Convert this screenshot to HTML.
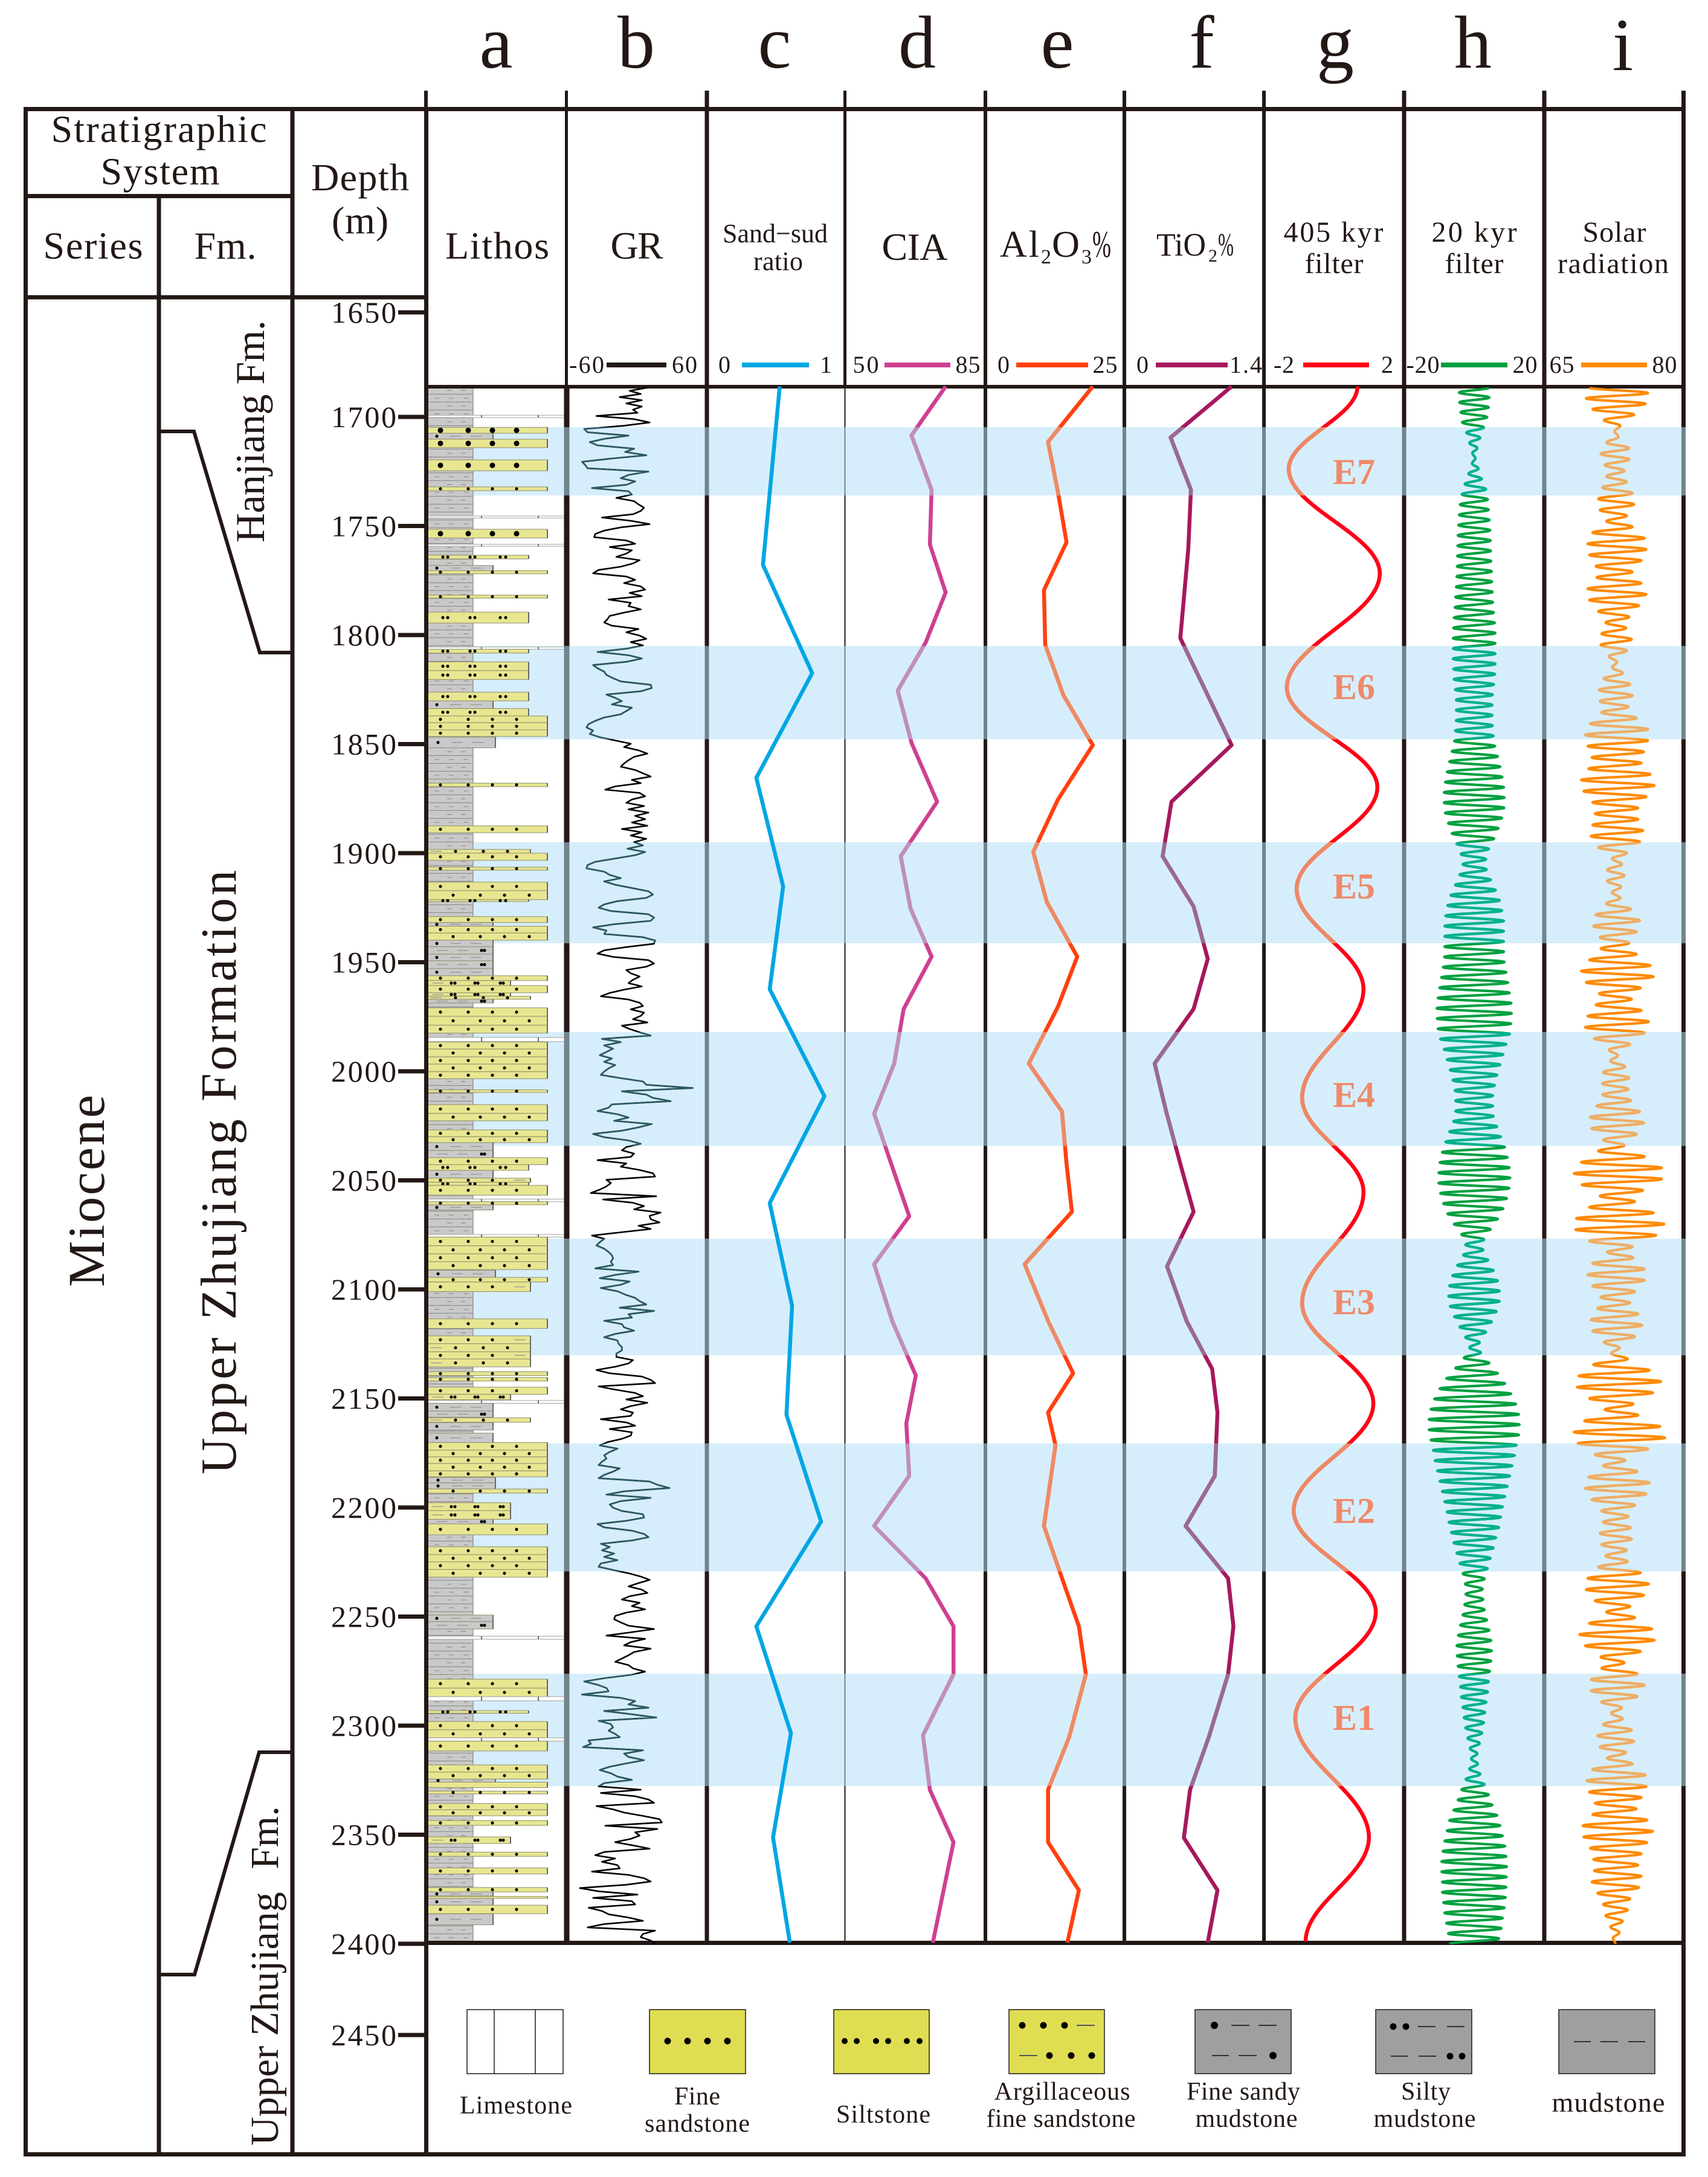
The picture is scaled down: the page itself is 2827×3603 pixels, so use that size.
<!DOCTYPE html>
<html lang="en">
<head>
<meta charset="utf-8">
<title>Stratigraphic chart</title>
<style>
html,body{margin:0;padding:0;background:#fff;}
svg{display:block;}
text{font-family:"Liberation Serif",serif;fill:#231815;}
.hd{font-size:64px;text-anchor:middle;}
.sm{font-size:48px;text-anchor:middle;}
.sc{font-size:40px;text-anchor:middle;}
.lt{font-size:124px;text-anchor:middle;}
.lg{font-size:42px;text-anchor:middle;}
</style>
</head>
<body>
<svg id="chart" xmlns="http://www.w3.org/2000/svg" width="2827" height="3603" viewBox="0 0 2827 3603">
<defs>
<pattern id="mudPattern" patternUnits="userSpaceOnUse" x="707" y="640" width="76" height="26">
<rect width="76" height="26" fill="#c9c9c9"/>
<path d="M0 12.5H76M0 25.5H76" stroke="#8f8f8f" stroke-width="1.2"/>
<path d="M33 6h8M56 6h8M12 19h8M36 19h8M60 19h8" stroke="#9a9a9a" stroke-width="1.4"/>
</pattern>
<clipPath id="bandClip"></clipPath>
</defs>
<rect width="2827" height="3603" fill="#fff"/>

<g>
<text class="lt" x="821" y="112">a</text>
<text class="lt" x="1053" y="112">b</text>
<text class="lt" x="1282" y="112">c</text>
<text class="lt" x="1518" y="112">d</text>
<text class="lt" x="1750" y="112">e</text>
<text class="lt" x="1989" y="112">f</text>
<text class="lt" x="2210" y="112">g</text>
<text class="lt" x="2438" y="112">h</text>
<text class="lt" x="2686" y="116">i</text>
</g>

<g id="bandLayer"></g>
<g id="lithoLayer"></g>

<g fill="#231815">
<rect x="702" y="150" width="6" height="30"/>
<rect x="935" y="150" width="5" height="490"/>
<rect x="933.5" y="640" width="9" height="2577"/>
<rect x="1166.5" y="150" width="7" height="3067"/>
<rect x="1396" y="150" width="5" height="490"/>
<rect x="1397.5" y="640" width="2" height="2577"/>
<rect x="1628" y="150" width="6" height="3067"/>
<rect x="1858" y="150" width="6" height="3067"/>
<rect x="2089" y="150" width="6" height="3067"/>
<rect x="2320.5" y="150" width="7" height="3067"/>
<rect x="2552.5" y="150" width="7" height="3067"/>
<rect x="2783" y="150" width="7" height="3418"/>
<rect x="39" y="177" width="2751" height="7"/>
<rect x="705" y="637" width="2085" height="6"/>
<rect x="705" y="3212" width="2085" height="7"/>
<rect x="39" y="3562" width="2751" height="7"/>
<rect x="39" y="177" width="7" height="3392"/>
<rect x="480.5" y="177" width="7" height="3392"/>
<rect x="702" y="177" width="7" height="3392"/>
<rect x="259.5" y="324" width="7" height="3245"/>
<rect x="39" y="321" width="448" height="7"/>
<rect x="39" y="488.5" width="670" height="7"/>
</g>
<polyline points="263,714 321,714 430,1080 484,1080" fill="none" stroke="#231815" stroke-width="6"/>
<polyline points="263,3268 322,3268 429,2900 484,2900" fill="none" stroke="#231815" stroke-width="6"/>

<g id="bandLineLayer"></g>
<g id="curveLayer"></g>
<g id="tickLayer"></g>

<g>
<text class="hd" x="263" y="235" textLength="357">Stratigraphic</text>
<text class="hd" x="265" y="305" textLength="197">System</text>
<text class="hd" x="154" y="428" textLength="165">Series</text>
<text class="hd" x="373" y="428" textLength="103">Fm.</text>
<text class="hd" x="596" y="315" textLength="162">Depth</text>
<text class="hd" x="596" y="386" textLength="94">(m)</text>
<text class="hd" x="823" y="428" textLength="172">Lithos</text>
<text class="hd" x="1054" y="428" textLength="87">GR</text>
<text class="sm" x="1283" y="401" textLength="174" style="font-size:44px">Sand−sud</text>
<text class="sm" x="1288" y="447" textLength="82" style="font-size:44px">ratio</text>
<text class="hd" x="1514" y="430" textLength="109">CIA</text>
<g>
<text x="1655" y="425" font-size="62" textLength="65">Al</text>
<text x="1723" y="436" font-size="34">2</text>
<text x="1741" y="425" font-size="62" textLength="46" lengthAdjust="spacingAndGlyphs">O</text>
<text x="1790" y="436" font-size="34">3</text>
<text x="1808" y="425" font-size="62" textLength="31" lengthAdjust="spacingAndGlyphs">%</text>
</g>
<g>
<text x="1914" y="423" font-size="54" textLength="82" lengthAdjust="spacingAndGlyphs">TiO</text>
<text x="2000" y="433" font-size="30">2</text>
<text x="2016" y="423" font-size="54" textLength="26" lengthAdjust="spacingAndGlyphs">%</text>
</g>
<text class="sm" x="2207" y="400" textLength="165">405 kyr</text>
<text class="sm" x="2208" y="452" textLength="97">filter</text>
<text class="sm" x="2440" y="400" textLength="141">20 kyr</text>
<text class="sm" x="2440" y="452" textLength="97">filter</text>
<text class="sm" x="2672" y="400" textLength="105">Solar</text>
<text class="sm" x="2670" y="452" textLength="184">radiation</text>
</g>

<g>
<text class="sc" x="971" y="617" textLength="58">-60</text>
<rect x="1004" y="600" width="99" height="8" fill="#231815"/>
<text class="sc" x="1133" y="617" textLength="42">60</text>
<text class="sc" x="1199" y="617">0</text>
<rect x="1228" y="600" width="111" height="8" fill="#00a6e4"/>
<text class="sc" x="1367" y="617">1</text>
<text class="sc" x="1433" y="617" textLength="43">50</text>
<rect x="1464" y="600" width="109" height="8" fill="#cf4090"/>
<text class="sc" x="1602" y="617" textLength="41">85</text>
<text class="sc" x="1661" y="617">0</text>
<rect x="1682" y="600" width="119" height="8" fill="#ff4010"/>
<text class="sc" x="1829" y="617" textLength="41">25</text>
<text class="sc" x="1891" y="617">0</text>
<rect x="1913" y="600" width="119" height="8" fill="#a6185e"/>
<text class="sc" x="2062" y="617" textLength="54">1.4</text>
<text class="sc" x="2125" y="617" textLength="34">-2</text>
<rect x="2157" y="600" width="109" height="8" fill="#ff0018"/>
<text class="sc" x="2296" y="617">2</text>
<text class="sc" x="2355" y="617" textLength="55">-20</text>
<rect x="2385" y="600" width="110" height="8" fill="#00a040"/>
<text class="sc" x="2524" y="617" textLength="41">20</text>
<text class="sc" x="2585" y="617" textLength="41">65</text>
<rect x="2617" y="600" width="109" height="8" fill="#ff8a00"/>
<text class="sc" x="2755" y="617" textLength="41">80</text>
</g>

<g>
<text transform="translate(172,2130) rotate(-90)" font-size="86" textLength="318">Miocene</text>
<text transform="translate(390,2440) rotate(-90)" font-size="84" textLength="1000">Upper Zhujiang Formation</text>
<text transform="translate(437,898) rotate(-90)" font-size="68" textLength="368">Hanjiang Fm.</text>
<text transform="translate(460,3551) rotate(-90)" font-size="66">Upper Zhujiang<tspan dx="21"> Fm.</tspan></text>
</g>

<g>
<g>
<rect x="773" y="3326" width="159" height="106" fill="#fff" stroke="#231815" stroke-width="1.5"/>
<path d="M818 3326V3432M886 3326V3432" stroke="#231815" stroke-width="1.5"/>
<text class="lg" x="854" y="3498" textLength="186">Limestone</text>
</g>
<g>
<rect x="1075" y="3326" width="159" height="106" fill="#dfde52" stroke="#231815" stroke-width="1.5"/>
<g fill="#000">
<circle cx="1105" cy="3378" r="5.5"/><circle cx="1138" cy="3378" r="5.5"/><circle cx="1171" cy="3378" r="5.5"/><circle cx="1204" cy="3378" r="5.5"/>
</g>
<text class="lg" x="1154" y="3483" textLength="76">Fine</text>
<text class="lg" x="1154" y="3528" textLength="174">sandstone</text>
</g>
<g>
<rect x="1380" y="3326" width="158" height="106" fill="#dfde52" stroke="#231815" stroke-width="1.5"/>
<g fill="#000">
<circle cx="1398" cy="3378" r="5"/><circle cx="1418" cy="3378" r="5"/><circle cx="1450" cy="3378" r="5"/><circle cx="1470" cy="3378" r="5"/><circle cx="1501" cy="3378" r="5"/><circle cx="1522" cy="3378" r="5"/>
</g>
<text class="lg" x="1462" y="3513" textLength="156">Siltstone</text>
</g>
<g>
<rect x="1670" y="3326" width="158" height="106" fill="#dfde52" stroke="#231815" stroke-width="1.5"/>
<g fill="#000">
<circle cx="1692" cy="3352" r="5.5"/><circle cx="1727" cy="3352" r="5.5"/><circle cx="1762" cy="3352" r="5.5"/><circle cx="1737" cy="3402" r="5.5"/><circle cx="1773" cy="3402" r="5.5"/><circle cx="1807" cy="3402" r="5.5"/>
</g>
<path d="M1782 3352h30M1687 3402h30" stroke="#555" stroke-width="2"/>
<text class="lg" x="1758" y="3475" textLength="225">Argillaceous</text>
<text class="lg" x="1756" y="3520" textLength="247">fine sandstone</text>
</g>
<g>
<rect x="1978" y="3326" width="159" height="106" fill="#a09fa0" stroke="#231815" stroke-width="1.5"/>
<g fill="#000"><circle cx="2010" cy="3352" r="6"/><circle cx="2107" cy="3402" r="6"/></g>
<path d="M2038 3352h30M2083 3352h30M2006 3402h28M2050 3402h30" stroke="#333" stroke-width="2"/>
<text class="lg" x="2058" y="3475" textLength="188">Fine sandy</text>
<text class="lg" x="2063" y="3520" textLength="169">mudstone</text>
</g>
<g>
<rect x="2277" y="3326" width="159" height="106" fill="#a09fa0" stroke="#231815" stroke-width="1.5"/>
<g fill="#000"><circle cx="2306" cy="3354" r="5.5"/><circle cx="2327" cy="3354" r="5.5"/><circle cx="2400" cy="3403" r="5.5"/><circle cx="2420" cy="3403" r="5.5"/></g>
<path d="M2347 3354h29M2395 3354h29M2302 3403h29M2348 3403h29" stroke="#333" stroke-width="2"/>
<text class="lg" x="2360" y="3475" textLength="82">Silty</text>
<text class="lg" x="2358" y="3520" textLength="169">mudstone</text>
</g>
<g>
<rect x="2580" y="3326" width="159" height="106" fill="#a09fa0" stroke="#231815" stroke-width="1.5"/>
<path d="M2605 3379h28M2649 3379h29M2695 3379h28" stroke="#333" stroke-width="2"/>
<text class="lg" x="2662" y="3495" textLength="187" style="font-size:46px">mudstone</text>
</g>
</g>
</svg>

<script>
// ---------- chart data ----------
const depthTicks = [1650,1700,1750,1800,1850,1900,1950,2000,2050,2100,2150,2200,2250,2300,2350,2400,2450];
const dataTopDepth = 1686;
const dataBottomDepth = 2400;

const bandNames = ['E7','E6','E5','E4','E3','E2','E1'];
const bandTops = [1704.7,1805,1895,1982,2076.7,2170.6,2276.2];
const bandBottoms = [1736,1847.8,1941.3,2034.2,2130.2,2229.3,2327.7];
const bandLabelDepths = [1730.8,1829.4,1920.8,2016.4,2111.4,2207,2302];

const sandDepths = [1686,1768.4,1818,1866,1915.8,1962.9,2012,2061,2108,2158,2207,2255,2304,2351.8,2400];
const sandValues = [.56,.41,.85,.35,.59,.47,.96,.47,.67,.62,.93,.35,.66,.50,.65];

const ciaDepths = [1686,1709,1734,1759,1781,1804,1826,1850,1877,1902,1926,1948,1972,1997,2020,2043,2067,2089,2115,2140,2162,2186,2209,2233,2255,2277,2305,2330,2354,2400];
const ciaValues = [77.3,66.9,73,72.5,77.3,71.2,62.7,66.9,74.7,63.6,66.6,73,64.5,61.6,55.5,60.7,66.2,55.5,61,68.2,65.3,66.2,55.5,71.2,79.7,79.7,70.4,72.5,79.7,73.4];

const al2o3Depths = [1686,1712,1735,1758,1780,1805,1828,1851,1876,1900,1923,1948,1971,1997,2019,2043,2065,2089,2115,2139,2157,2172,2209,2233,2255,2277,2306,2330,2354,2376,2400];
const al2o3Values = [23.8,12.9,15.3,17.4,11.9,12.2,16.6,23.8,15.3,9.3,12.6,20,15.3,8.2,16.3,17.4,18.7,7.2,12.9,19,12.9,14.7,11.9,16.3,20.4,22.1,18,12.9,12.9,20.4,17.6];

const tio2Depths = [1686,1710,1734,1761,1802,1851,1877,1902,1925,1949,1972,1997,2019,2043,2065,2090,2115,2137,2157,2186,2209,2233,2255,2277,2306,2330,2352,2376,2400];
const tio2Values = [1.11,.42,.65,.62,.53,1.11,.43,.33,.68,.84,.68,.24,.37,.53,.68,.38,.60,.89,.95,.92,.59,1.07,1.13,1.07,.85,.64,.57,.95,.84];

const filter405Depths = [1686,1724.4,1772.3,1824.7,1870.4,1916.9,1962.9,2012.7,2056,2106.9,2152.9,2202,2248.5,2297,2351.8,2399.5];
const filter405Values = [.91,-1.62,1.73,-1.69,1.64,-1.33,1.13,-1.13,1.13,-1.13,1.49,-1.44,1.58,-1.38,1.33,-1.0];

const filter20Amplitudes = [5,5,5,4.9,4.8,4.5,4.3,4,3.2,2.6,2,1.6,1,.6,.4,.7,1.4,1.9,2.5,3.1,3.9,4.1,4.5,4.7,4.8,5,5.1,5.2,5.3,5.4,5.4,5.5,5.5,5.6,5.6,5.7,5.8,5.8,5.9,6,6.1,6.2,6.2,6.4,6.5,6.7,6.8,6.9,7,7,7,7,7,7,7,6.9,6.9,6.7,6.5,6.3,6.1,6,6,6,6,6,6.1,6.3,6.4,6.6,6.9,7.4,7.8,8.2,8.6,9,9.3,9.6,9.8,10,10,10,9.9,9.6,9.2,8.6,8,7.4,6.6,5.8,4.8,4.4,3.9,3.8,4.1,4.8,5.5,6.3,7.1,7.8,8.4,8.8,9.2,9.5,9.8,9.8,9.8,9.8,9.8,9.8,9.8,9.9,10,10.3,10.6,10.9,11.2,11.5,11.7,12,12.3,12.4,12.4,12.3,12.2,12,11.8,11.2,10.6,10,9.6,9,8.6,8,7.6,7.1,6.8,6.4,6.2,6.2,6.2,6.2,6.4,6.9,7.6,8.2,8.8,9.5,10.1,10.6,11,11.4,11.7,11.8,11.9,11.8,11.6,11.2,10.8,10.2,9.6,8.8,7.8,6.7,5.4,4.2,3.3,2.9,3,3.6,4.6,5.6,6.4,7.2,7.8,8.2,8.4,8.5,8.4,8,7.4,6.6,5.8,4.8,3.9,2.9,1.8,1.6,2.2,3.4,5,6.2,7.8,9.2,10.2,11.4,12.2,13.2,13.8,14.4,14.8,15,15,15,14.8,14.4,14,13.6,13.4,13,12.6,12.2,11.8,11.4,11,10.6,10.2,9.8,9.4,9,8.8,8.4,8.2,7.6,7.2,6.8,6.4,5.8,5.4,4.8,4.4,3.8,3.4,3,2.8,2.8,3,3.2,3.4,3.8,4.2,4.6,5,5.3,5.6,5.8,5.8,5.7,5.6,5.4,5.2,5,4.8,4.6,4.5,4.3,4,3.8,3.6,3.4,3.2,2.9,2.6,2.2,1.8,1.4,1,1,1.2,1.6,2,2.8,3.4,4.2,4.8,5.4,6,6.8,7.6,8.2,8.6,9,9.4,9.8,10.2,10.4,10.6,10.8,10.8,10.8,10.7,10.6,10.6,10.6,10.4,10.2,10,9.8,9.4,9.2,9,8.6,8.2,8];

const solarValues = [69.2,76.4,68.8,76.1,69.6,74.7,71,73,72.3,72.8,71.3,74.1,70.6,74.1,71.1,73.5,71.3,73.8,70.8,74.5,70.3,74.7,70.5,73.8,71.3,74.5,69.6,76,69,76.2,69.2,75.6,70,74.5,70.1,75.6,69,76.2,69.2,75.3,70.3,74.1,71.2,73.7,70.7,74.4,70.6,73.8,71.6,72.6,72,73.3,71,74.2,70.4,74.5,70.5,74,70.7,75,69.3,76.4,68.7,76.4,69,75.9,69.5,75.6,69.1,76.7,68.2,77.2,68.5,76.2,69.6,75.2,69.9,75.2,69.6,75.8,69.4,75.4,70.3,73.8,
72,73.2,71.4,73.5,71.4,73.1,72,73,71.3,74.3,70,75.4,69.7,75,70.5,74.1,70.6,75,69.2,76.7,68.2,77.1,68.8,75.5,70.4,74.4,70,75.6,69,76.5,68.7,76,69.8,74.2,71.6,72.7,71.8,73.6,70.9,74.1,70.8,74,70.8,74.3,70.1,75.4,69.3,75.9,69.5,75,70.9,73.5,70.3,76,68.2,78.1,67.3,78.1,68.3,75.8,70.5,74.8,69.2,77.1,67.6,78.4,67.5,77.4,69.2,74.5,71.4,74.6,69.6,76,69,76,69.6,74.8,70.6,74.2,70.2,75.2,69.4,75.7,69.6,74.8,71,72.9,71.9,73.9,69.7,76.6,67.9,78,67.7,77,69.2,
74.6,71.1,75.2,68.6,77.9,67.3,78.5,67.8,76.4,69.9,73.6,70.9,75.1,69.1,76.6,68.7,76.2,69.5,74.8,70.7,74,70.9,74.3,70.5,74.4,70.7,73.8,71.2,73.9,70.3,75.5,69,76.5,68.8,75.9,69.9,74.2,71.3,74.8,69.2,76.9,68,77.2,68.7,75.5,70.6,73.5,70.7,75.1,69.4,76,69.4,75.1,70.7,73.2,71.9,73.3,70.9,74.4,70.2,74.7,70.5,73.7,71.4,74.5,69.6,76.1,68.9,76.2,69.2,75.6,69.9,75,69.6,76.3,68.4,77,68.5,76.3,69.3,75.6,69.7,75.2,69.8,75.6,69.5,75.3,70.2,74.2,70.9,73.9,71.2,73.3,71.8,72.9,72.1,72.4];

const grValues = [9,-7,3,-16,4,-10,4,-4,0,-37,-3,11,-12,-48,-45,-8,-30,-43,-36,-3,-11,8,-23,-50,-47,-45,10,-8,-15,-2,-10,-41,-8,-5,-19,-3,1,6,3,-4,-32,-6,11,-15,-30,-38,-39,-10,-2,-25,-5,-10,-19,2,-4,-15,-35,-40,-10,-2,-12,3,7,-7,4,-26,-6,-8,3,-12,-25,-27,-30,-23,1,-10,2,8,-6,5,-10,-36,-8,4,-10,-40,-36,-30,-28,-22,-15,12,13,3,-28,-20,-14,-23,-5,-10,-15,-30,-38,-44,-46,-40,-43,-34,-20,-6,-12,1,9,-3,-8,-12,-15,-2,5,12,-5,3,-20,-29,2,7,-5,
-10,6,-8,10,-2,7,-5,9,-14,4,-6,8,-3,5,-9,7,-2,-20,-38,-45,-46,-30,-25,-15,-30,-20,-5,10,14,8,-18,-30,-35,-24,10,15,12,-20,-40,-28,-30,5,16,15,-10,-30,-36,-22,10,15,8,-10,-6,2,-4,-8,4,-12,-25,-33,-8,2,5,-6,6,3,-4,9,-14,-7,
2,12,-32,-15,-30,-22,-28,-34,-23,-30,-20,-26,-30,-33,-15,5,8,50,-14,8,14,30,-23,-26,-36,-18,-8,-21,13,1,-14,-40,-30,-8,3,-10,-14,-3,-6,-36,-10,-15,2,14,16,-28,-24,-28,-34,-42,17,-31,-4,6,-3,21,11,12,20,1,12,-15,-41,-30,-34,-37,-30,-26,-23,-22,-24,-22,-38,1,-20,-34,-7,-15,-33,-18,-11,-2,2,8,-16,15,-8,-5,-30,-14,-12,-3,-20,-30,-18,-17,-14,-14,-19,-19,-4,-8,-20,-37,-25,4,12,16,-35,-20,-2,5,-10,9,-6,-15,-4,-6,-33,-10,-2,-25,-5,-6,-14,-27,-34,-18,-25,-30,-28,-32,-35,-16,-22,-30,-35,11,18,29,-12,-28,12,-15,-25,-22,
-14,5,6,-10,-36,-30,-5,6,10,-5,-33,-25,-32,-21,-30,-18,-33,-35,-22,-8,3,11,1,-8,4,9,-7,-14,2,-5,7,-10,-20,-21,-15,-8,15,-6,-28,7,-6,-12,12,-3,-8,-14,-20,-8,-4,7,-6,-30,-48,-36,-28,-26,-50,-15,-2,-8,10,-30,-5,17,-35,-24,-22,-26,-20,-16,-44,-42,-49,5,-12,-8,6,-10,-25,-34,-24,-18,-5,-30,-35,3,-33,-2,10,15,-37,-22,-12,5,20,22,-29,18,-2,2,-6,-20,-4,11,-30,-38,-20,-32,-18,-16,-41,-8,6,12,-10,-52,-35,0,-40,-5,-2,-44,-32,-26,-8,5,-30,-45,16,5,3,12,16];

// lithology beds: top depth, bottom depth, rock code
const lithoBeds = [
[1699.2,1700.3,'L'],[1704.8,1707.5,'H'],[1707.5,1710.2,'M'],[1710.2,1714.1,'H'],[1719.7,1724.7,'H'],[1732.1,1733.8,'F'],[1745.4,1746.3,'L'],[1751.5,1755.5,'H'],[1758.4,1759.3,'L'],[1763.4,1765.1,'S'],[1768.1,1770.5,'M'],[1770.5,1771.9,'F'],[1781.7,1783.1,'F'],[1789.5,1794.5,'S'],[1805.5,1806.5,'L'],[1806.5,1808.3,'S'],[1812.3,1816.3,'S'],[1816.3,1820.4,'S'],[1826.2,1830.2,'S'],[1830.2,1833.7,'M'],[1833.7,1837.1,'S'],[1837.1,1840.2,'F'],[1840.2,1843.5,'F'],[1843.5,1846.5,'F'],[1846.8,1851.7,'W'],[1867.9,1869.5,'F'],
[1887.5,1890.6,'F'],[1898.3,1900,'C'],[1900,1903.3,'F'],[1906.4,1907.8,'F'],[1913.3,1917.2,'F'],[1917.2,1921.3,'B'],[1921.3,1922.2,'S'],[1929.1,1931.8,'F'],[1931.8,1933.5,'M'],[1933.5,1936.6,'F'],[1936.6,1939.9,'B'],[1939.9,1942.9,'M'],[1942.9,1946.3,'Y'],[1946.3,1949.3,'M'],[1949.3,1952.9,'Y'],[1952.9,1956.2,'M'],[1956.2,1958.4,'F'],[1958.4,1960.7,'D'],[1960.7,1964,'F'],[1964,1965.6,'D'],[1965.6,1967,'C'],[1967,1968.7,'Y'],[1970.9,1974.8,'F'],[1974.8,1978.9,'B'],[1978.9,1982.5,'F'],[1984.5,1986.4,'L'],
[1986.6,1989.8,'F'],[1989.8,1993.4,'B'],[1993.4,1996.7,'F'],[1996.7,2000.2,'B'],[2000.2,2003.4,'F'],[2008.5,2009.7,'F'],[2015.3,2019.3,'F'],[2019.3,2022.7,'B'],[2026.9,2030,'F'],[2030,2032.7,'B'],[2032.7,2036.3,'M'],[2036.3,2039.6,'Y'],[2039.6,2042.8,'F'],[2042.8,2045.4,'S'],[2045.4,2049,'M'],[2049,2050.9,'A'],[2050.9,2052.3,'S'],[2052.3,2056.8,'F'],[2058.6,2059.8,'L'],[2059.8,2061.2,'F'],[2061.2,2063.6,'M'],[2074.8,2076,'L'],[2076,2080,'F'],[2080,2083.7,'B'],[2083.7,2087.3,'F'],[2087.3,2090.9,'B'],[2091.2,2094.5,'W'],[2094.5,2096.6,'B'],[2096.6,2101,'A'],[2113.5,2117.9,'F'],[2121.3,2124.9,'A'],[2124.9,2128.6,'C'],[2128.6,2131.9,'A'],[2131.9,2135.5,'C'],[2137.7,2139.5,'F'],[2140.4,2142,'F'],[2144.8,2148.1,'F'],[2148.1,2150.6,'D'],[2150.9,2152.2,'L'],[2152.2,2155.8,'M'],[2155.8,2158.6,'Y'],[2158.9,2160.9,'C'],[2161.1,2164.5,'M'],[2165.9,2170.2,'M'],[2170.2,2173.7,'F'],[2173.7,2176.8,'B'],[2176.8,2179.8,'F'],[2179.8,2183.2,'B'],[2183.2,2185.9,'F'],[2186.2,2188.7,'W'],[2188.7,2191.5,'W'],[2191.5,2193.4,'B'],[2197.8,2201.4,'D'],
[2201.4,2205.4,'D'],[2205.4,2207.5,'Y'],[2207.5,2212.5,'F'],[2218,2221.6,'F'],[2221.6,2224.9,'B'],[2224.9,2228.4,'F'],[2228.4,2231.9,'B'],[2249.3,2252.3,'M'],[2252.3,2255.7,'Y'],[2259,2260.4,'L'],[2278.7,2282.8,'F'],[2282.8,2286.7,'B'],[2286.7,2288.6,'L'],[2293.1,2294.3,'S'],[2298.1,2301.9,'F'],[2301.9,2305.6,'B'],[2305.6,2307.1,'L'],[2307.1,2311.6,'F'],[2318,2321.3,'F'],[2321.3,2324.5,'B'],[2324.5,2325.9,'W'],[2325.9,2328.4,'N'],[2330,2331.3,'B'],[2335.7,2338.6,'F'],[2338.6,2341.3,'B'],[2343.5,2345.7,'F'],[2351,2354,'D'],[2358,2359.9,'F'],[2365.2,2368,'F'],[2374.2,2376.2,'F'],[2376.2,2378.1,'M'],[2378.3,2379.2,'N'],[2379.2,2382.3,'M'],[2382.3,2386.2,'F'],[2386.3,2391.3,'M']
];
</script>
<script>
// ---------- axes ----------
function depthY(d){
  if(d<1700) return 517+(d-1650)*(690-517)/50;
  if(d<=2400) return 690+(d-1700)*3.61;
  return 3217+(d-2400)*(3368-3217)/50;
}
function curveY(d){return depthY(d)-2;}
function linScale(d0,d1,r0,r1){return function(v){return r0+(v-d0)*(r1-r0)/(d1-d0);};}
const xGR = linScale(-60,60,945,1165);
const xSand = linScale(0,1,1187,1372);
const xCIA = linScale(50,85,1417,1607);
const xAl = linScale(0,25,1647,1817);
const xTi = linScale(0,1.4,1876,2081);
const xF405 = linScale(-2,2,2116,2296);
const xF20 = linScale(-20,20,2340,2540);
const xSolar = linScale(65,80,2574,2776);

const NS='http://www.w3.org/2000/svg';
function make(tag,attrs,parent){
  const el=document.createElementNS(NS,tag);
  for(const k in attrs) el.setAttribute(k,attrs[k]);
  if(parent) parent.appendChild(el);
  return el;
}
const bandLayer=document.getElementById('bandLayer');
const bandLineLayer=document.getElementById('bandLineLayer');
const lithoLayer=document.getElementById('lithoLayer');
const curveLayer=document.getElementById('curveLayer');
const tickLayer=document.getElementById('tickLayer');
const bandClip=document.getElementById('bandClip');

// ---------- bands ----------
const dividerSpans=[[933.5,9],[1166.5,7],[1397.5,2],[1628,6],[1858,6],[2089,6],[2320.5,7],[2552.5,7],[2783,7]];
bandNames.forEach(function(name,i){
  const y0=depthY(bandTops[i]), y1=depthY(bandBottoms[i]);
  const r=make('rect',{x:705,y:y0,width:2082,height:y1-y0,fill:'#d6eefb'},bandLayer);
  
  
  make('rect',{x:0,y:y0,width:2827,height:y1-y0},bandClip);
  dividerSpans.forEach(function(s){
    const t=make('rect',{x:s[0],y:y0,width:s[1],height:y1-y0,fill:'#73848c'},bandLineLayer);
    
    
  });
});

// ---------- lithology ----------
const mud=make('rect',{x:707,y:depthY(dataTopDepth)-2,width:76,height:depthY(dataBottomDepth)-depthY(dataTopDepth)+2,fill:'url(#mudPattern)',stroke:'#777','stroke-width':1},lithoLayer);


const rockStyle={
 H:{r:906,f:'#e8e690',d:[729,775,815,855],ds:[],dot:4.5},
 F:{r:906,f:'#e8e690',d:[729,775,815,855],ds:[],dot:2.6},
 B:{r:906,f:'#e8e690',d:[750,795,835,876],ds:[],dot:2.6},
 N:{r:906,f:'#e8e690',d:[],ds:[],dot:0},
 S:{r:875,f:'#e8e690',d:[733,741,778,786,828,837],ds:[],dot:2.6},
 M:{r:816,f:'#c9c9c9',d:[723],ds:[754,788],dot:2.6},
 Y:{r:816,f:'#c9c9c9',d:[797,802],ds:[732,766],dot:2.6},
 W:{r:820,f:'#c9c9c9',d:[725],ds:[757,791],dot:2.6},
 A:{r:878,f:'#e8e690',d:[729,775,815],ds:[860],dot:2.6},
 C:{r:878,f:'#e8e690',d:[754,800,840],ds:[722],dot:2.6},
 D:{r:845,f:'#e8e690',d:[747,753,786,791,828,833],ds:[725],dot:2.6},
 L:{r:937,f:'#ffffff',d:[],ds:[],dot:0}
};
lithoBeds.forEach(function(bed){
  const code=bed[2];
  const st=rockStyle[code];
  const y0=depthY(bed[0]), y1=depthY(bed[1]), mid=(y0+y1)/2;
  const g=make('g',{},lithoLayer);
  
  
  make('rect',{x:707,y:y0,width:st.r-707,height:y1-y0,fill:st.f,stroke:code==='L'?'#a0a0a0':'#8d8d70','stroke-width':1},g);
  make('rect',{x:st.r-1,y:y0,width:2,height:y1-y0,fill:'#666'},g);
  st.d.forEach(function(x){make('ellipse',{cx:x,cy:mid,rx:st.dot,ry:st.dot,fill:'#000'},g);});
  st.ds.forEach(function(x){make('rect',{x:x-9,y:mid-.7,width:18,height:1.4,fill:'#999'},g);});
  if(code==='L'){[797,891].forEach(function(x){make('rect',{x:x-.7,y:y0,width:1.4,height:y1-y0,fill:'#333'},g);});}
});

// ---------- curves ----------
function polyPath(xs,ys){return xs.map(function(x,i){return (i?'L':'M')+x.toFixed(1)+' '+ys[i].toFixed(1);}).join('');}
function wavePath(xs,ys){
  let p='M'+xs[0].toFixed(1)+' '+ys[0].toFixed(1);
  for(let i=1;i<xs.length;i++){
    const dy=(ys[i]-ys[i-1])*.37;
    p+='C'+xs[i-1].toFixed(1)+' '+(ys[i-1]+dy).toFixed(1)+' '+xs[i].toFixed(1)+' '+(ys[i]-dy).toFixed(1)+' '+xs[i].toFixed(1)+' '+ys[i].toFixed(1);
  }
  return p;
}
function evenDepthYs(n){
  const out=[];
  for(let i=0;i<n;i++) out.push(depthY(dataTopDepth+i*(dataBottomDepth-dataTopDepth)/(n-1)));
  return out;
}
function addCurve(name,d,color,tint,width){
  const a=make('path',{d:d,fill:'none',stroke:color,'stroke-width':width,'stroke-linejoin':'round','stroke-linecap':'butt'},curveLayer);
  
  
  if(tint!==color){
    const b=make('path',{d:d,fill:'none',stroke:tint,'stroke-width':width,'stroke-linejoin':'round','clip-path':'url(#bandClip)'},curveLayer);
    
    
  }
}
addCurve('gr-curve',polyPath(grValues.map(xGR),evenDepthYs(grValues.length)),'#000','#2d5a62',2.6);
addCurve('sand-sud-curve',polyPath(sandValues.map(xSand),sandDepths.map(curveY)),'#00a6e4','#00a6e4',6.5);
addCurve('cia-curve',polyPath(ciaValues.map(xCIA),ciaDepths.map(curveY)),'#cf4090','#c08fbc',6.5);
addCurve('al2o3-curve',polyPath(al2o3Values.map(xAl),al2o3Depths.map(curveY)),'#ff4010','#ee8a66',6.5);
addCurve('tio2-curve',polyPath(tio2Values.map(xTi),tio2Depths.map(curveY)),'#a6185e','#9a6a92',6.5);
addCurve('filter405-curve',wavePath(filter405Values.map(xF405),filter405Depths.map(curveY)),'#ff0018','#ee8866',6.5);
addCurve('filter20-curve',wavePath(filter20Amplitudes.map(function(a,i){return xF20(i%2?-a:a);}),evenDepthYs(filter20Amplitudes.length)),'#00a040','#00b18d',4.2);
addCurve('solar-curve',wavePath(solarValues.map(xSolar),evenDepthYs(solarValues.length)),'#ff8a00','#eeae66',4.2);

// band labels
bandNames.forEach(function(name,i){
  const t=make('text',{x:2241,y:depthY(bandLabelDepths[i]),'text-anchor':'middle','font-size':60,'font-weight':'bold',style:'fill:#f0896a'},curveLayer);
  
  
  t.textContent=name;
});

// ---------- depth ticks ----------
depthTicks.forEach(function(d){
  const y=depthY(d);
  const r=make('rect',{x:659,y:y-3.5,width:46,height:7,fill:'#231815'},tickLayer);
  
  
  const t=make('text',{x:656,y:y+17,'text-anchor':'end','font-size':50,textLength:108},tickLayer);
  
  
  t.textContent=String(d);
});
</script>
</body>
</html>
